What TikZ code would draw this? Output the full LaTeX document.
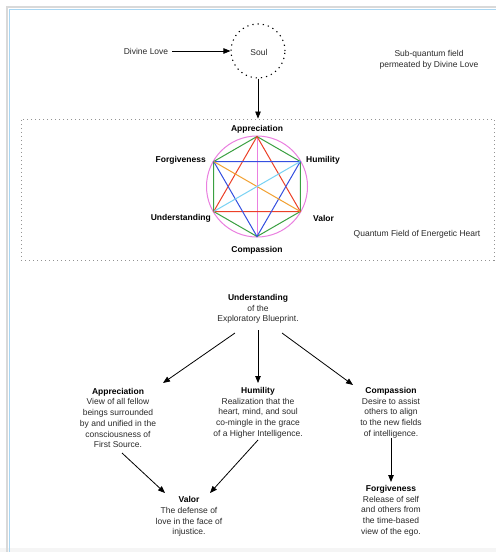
\documentclass[tikz,border=0pt]{standalone}
\usepackage{fontspec}
\setmainfont{Liberation Sans}
\usetikzlibrary{arrows.meta,calc}
\definecolor{hgreen}{HTML}{3AA041}
\definecolor{hred}{HTML}{EC4128}
\definecolor{hblue}{HTML}{3550E0}
\definecolor{horange}{HTML}{F2A030}
\definecolor{hcyan}{HTML}{78D2F4}
\definecolor{hpink}{HTML}{EA80E0}
\definecolor{framebl}{HTML}{A9D6F2}
\definecolor{txtgray}{HTML}{2A2A2A}
\begin{document}
\begin{tikzpicture}[x=1pt,y=-1pt,
  txt/.style={font=\fontsize{8.5}{10.7}\selectfont, align=center, inner sep=0pt, text=txtgray},
  lbl/.style={font=\fontsize{8.5}{10.7}\selectfont\bfseries, inner sep=0pt},
  arr/.style={-{Triangle[length=7pt,width=5.5pt]}, line width=0.8pt},
  hexl/.style={line width=1pt},
  dotbox/.style={draw=gray!85, line width=0.9pt, dash pattern=on 1.3pt off 2.7pt}
]
\useasboundingbox (0,0) rectangle (496,552);
\fill[white] (0,0) rectangle (496,552);
% frame
\fill[gray!8] (0,548) rectangle (496,552);
\draw[gray!30, line width=2.5pt] (7,552) -- (7,7) -- (496,7);
\draw[framebl, line width=1pt] (9,552) -- (9,9) -- (496,9);

% top part
\node[circle, draw, line width=1.1pt, dash pattern=on 1.2pt off 4pt, minimum size=54pt, inner sep=0pt] (soul) at (258,51) {};
\node[txt] (soultxt) at (259,52) {Soul};
\node[txt, inner sep=4pt] (dl) at (146,51) {Divine Love};
\draw[arr] (dl.east) -- (dl.east -| soul.west);
\node[txt] (sub) at (429,60) {Sub-quantum field\\permeated by Divine Love};

% quantum field box
\node[dotbox, minimum width=473pt, minimum height=141pt, inner sep=0pt] (qf) at (257.5,189.5) {};
\draw[arr] (soul.south) -- (soul.south |- qf.north);
\node[txt] (qftxt) at (417,234) {Quantum Field of Energetic Heart};

% hexagon
\coordinate (hc) at (257,186.5);
\coordinate (vA) at (257,136.5);
\coordinate (vC) at (257,236.5);
\coordinate (vF) at (213.7,161.5);
\coordinate (vH) at (300.3,161.5);
\coordinate (vU) at (213.7,211.5);
\coordinate (vV) at (300.3,211.5);
\draw[hpink, hexl] (hc) circle (50.5pt);
\draw[hpink, hexl] (vA) -- (vC);
\draw[hgreen, hexl] (vF) -- (vA) -- (vH);
\draw[hgreen, hexl] (vF) -- (vU) -- (vC) -- (vV) -- (vH);
\draw[hred, hexl] (vU) -- (vA) -- (vV) -- cycle;
\draw[hblue, hexl] (vF) -- (vH) -- (vC) -- cycle;
\draw[horange, hexl] (vF) -- (vV);
\draw[hcyan, hexl] (vU) -- (vH);

\node[lbl] (lA) at (257,129) {Appreciation};
\node[lbl, anchor=east] (lF) at (206,160) {Forgiveness};
\node[lbl, anchor=west] (lH) at (306,160) {Humility};
\node[lbl, anchor=east] (lU) at (211,218) {Understanding};
\node[lbl, anchor=west] (lV) at (313,218) {Valor};
\node[lbl] (lC) at (257,250) {Compassion};

% bottom tree
\node[txt] (und) at (258,309) {\textbf{\color{black}Understanding}\\of the\\Exploratory Blueprint.};
\node[txt] (app) at (118,418) {\textbf{\color{black}Appreciation}\\View of all fellow\\beings surrounded\\by and unified in the\\consciousness of\\First Source.};
\node[txt] (hum) at (258,412.5) {\textbf{\color{black}Humility}\\Realization that the\\heart, mind, and soul\\co-mingle in the grace\\of a Higher Intelligence.};
\node[txt] (com) at (391,412.5) {\textbf{\color{black}Compassion}\\Desire to assist\\others to align\\to the new fields\\of intelligence.};
\node[txt] (val) at (189,516.5) {\textbf{\color{black}Valor}\\The defense of\\love in the face of\\injustice.};
\node[txt] (for) at (391,510.5) {\textbf{\color{black}Forgiveness}\\Release of self\\and others from\\the time-based\\view of the ego.};

\draw[arr] ($(und)+(-23,24)$) -- ($(app)+(45,-35)$);
\draw[arr] ($(und)+(0,21)$) -- ($(hum)+(0,-29.5)$);
\draw[arr] ($(und)+(24,24)$) -- ($(com)+(-38,-27.5)$);
\draw[arr] ($(app)+(4,35)$) -- ($(val)+(-24,-23.5)$);
\draw[arr] ($(hum)+(0,27.5)$) -- ($(val)+(21,-23.5)$);
\draw[arr] ($(com)+(0,25.5)$) -- ($(for)+(0,-28.5)$);
\end{tikzpicture}
\end{document}
